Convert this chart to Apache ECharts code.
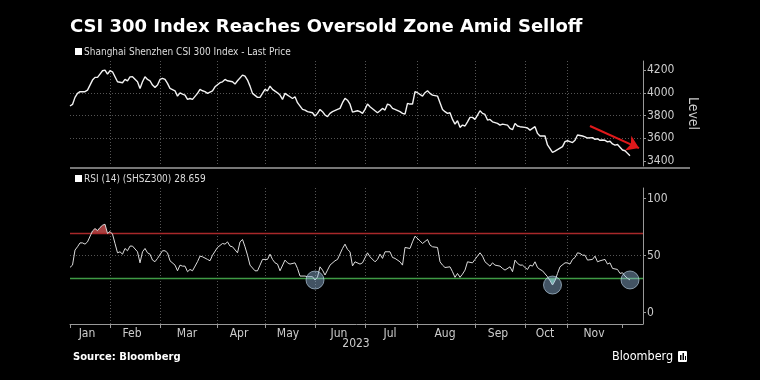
<!DOCTYPE html>
<html><head><meta charset="utf-8">
<script src="https://cdn.jsdelivr.net/npm/echarts@6/dist/echarts.min.js"></script>
<style>html,body{margin:0;padding:0;background:#000}#c{width:760px;height:380px}</style>
</head><body><div id="c"></div>
<script>
// trading-day index (0 = first session of Jan 2023) and values
const priceDays = [0,1,2,3,4,6,7,9,10,11,12,13,14,15,16,17,18,19,21,22,23,24,25,27,28,29,30,31,32,33,34,35,36,37,38,39,40,42,43,44,45,46,47,48,49,51,52,53,54,55,57,58,60,61,62,63,65,66,67,69,70,71,72,73,75,76,77,78,79,80,81,83,84,85,86,87,88,89,90,91,93,94,95,97,98,99,100,101,102,103,104,105,107,108,109,110,111,112,113,115,116,117,118,119,120,122,123,124,125,126,127,128,129,130,132,133,134,135,136,137,138,139,141,142,143,144,145,147,148,149,150,151,152,153,154,155,156,157,158,159,160,161,162,163,164,165,166,167,168,169,171,172,173,175,176,177,178,179,180,182,183,184,186,187,188,190,191,193,194,195,197,198,199,200,201,202,203,205,206,207,209,210,211,212,213,214,215,216,217,218,219,221,222,223,224];
const priceValues = [3884,3898,3960,3995,4010,4010,4024,4112,4136,4136,4165,4194,4200,4165,4194,4185,4141,4097,4089,4118,4106,4140,4141,4097,4039,4097,4141,4118,4106,4068,4048,4068,4118,4127,4118,4083,4039,4018,3971,4000,3988,3980,3942,3950,3942,3995,4030,4018,4010,3995,4018,4053,4089,4097,4118,4106,4097,4077,4106,4156,4147,4112,4059,3995,3960,3960,3995,4030,4018,4059,4030,4000,3980,3942,3995,3980,3965,3950,3965,3913,3854,3848,3834,3825,3796,3819,3854,3834,3805,3790,3819,3834,3854,3863,3913,3951,3935,3900,3830,3842,3834,3819,3854,3901,3877,3842,3825,3842,3863,3848,3901,3892,3863,3854,3834,3819,3813,3907,3901,3901,4010,4001,3971,4001,4018,3995,3980,3971,3913,3854,3834,3819,3825,3766,3725,3754,3696,3716,3708,3745,3784,3784,3766,3804,3842,3819,3810,3760,3766,3745,3731,3716,3725,3716,3687,3676,3731,3708,3702,3696,3690,3672,3702,3643,3620,3620,3541,3476,3487,3500,3526,3570,3578,3570,3562,3582,3629,3620,3612,3602,3606,3590,3596,3582,3585,3582,3568,3574,3550,3540,3545,3497,3490,3468,3447];
const rsiDays = [0,1,2,3,4,5,6,7,9,10,11,12,13,14,15,16,17,18,19,20,21,22,23,24,25,27,28,29,30,31,32,33,34,35,37,38,39,40,42,43,44,45,46,47,48,49,51,52,53,55,56,57,59,61,62,63,64,65,67,68,69,70,71,72,74,75,76,77,79,80,81,82,83,84,86,87,88,90,91,92,94,95,97,98,99,100,101,102,103,104,106,107,109,110,111,112,113,114,116,117,119,120,122,123,124,125,126,128,129,130,132,133,134,136,137,138,140,141,143,144,145,147,148,149,150,152,153,154,155,156,157,158,159,161,162,164,165,166,168,169,170,172,173,174,176,177,178,179,180,181,182,183,184,185,186,187,188,189,191,192,193,194,195,196,198,199,200,201,202,203,204,205,206,207,209,210,211,212,214,215,216,217,219,220,221,222,223,224];
const rsiValues = [39.7,41.7,54.9,57.8,61.2,61.2,60.1,62.1,71.7,73.8,72.0,74.7,76.7,77.6,69.5,71.2,68.9,60.7,52.5,53.4,51.3,56.3,54.3,58.4,58.4,53.4,43.7,53.4,56.3,52.5,51.3,46.1,44.7,47.6,54.3,54.3,52.5,45.5,41.7,36.7,41.7,40.8,40.8,35.9,37.9,36.7,44.7,49.6,49.0,46.7,45.5,50.4,57.2,60.7,60.1,62.1,58.4,57.8,52.5,62.1,64.2,57.8,50.4,41.7,36.7,36.7,41.7,46.7,46.7,51.3,46.7,43.7,42.6,36.7,46.1,43.7,42.6,43.7,38.8,32.1,32.1,31.5,31.5,28.6,31.2,40.2,37.3,33.0,37.3,41.7,45.5,46.7,56.3,60.1,55.5,53.4,41.0,44.6,42.6,43.7,52.5,49.0,44.6,46.7,51.3,47.6,53.4,53.4,48.4,47.6,44.6,41.7,57.2,56.3,62.1,67.1,63.0,60.7,64.2,59.3,57.8,57.2,44.6,41.7,39.6,40.2,35.9,31.0,34.4,31.0,33.8,37.3,44.6,43.7,46.7,52.5,49.6,44.6,40.8,43.7,41.7,40.8,38.8,37.3,40.2,35.9,46.1,43.2,41.7,41.7,39.6,37.9,41.7,40.8,44.6,39.6,37.9,36.7,31.5,28.0,24.2,28.0,34.4,40.2,43.7,43.7,42.6,46.7,48.4,52.5,52.0,50.4,50.4,46.1,46.7,49.6,44.6,45.5,46.7,42.6,43.7,38.8,37.9,34.4,35.0,32.1,30.1,28.659];
const monthStartDays = [0,16,36,59,78,98,118,139,162,182,199,221];
const monthLabelDays = [6.8,24.8,46.8,67.6,87.2,107.6,128,150,171.2,190,209.6];
const monthNames = ['Jan','Feb','Mar','Apr','May','Jun','Jul','Aug','Sep','Oct','Nov'];
const priceTicks = [3400,3600,3800,4000,4200];
const rsiTicks = [0,50,100];
const overbought = 70;
const oversold = 30;
const oversoldMarks = [[98,28.6],[193,24.2],[224,28.659]];
const trendArrow = [[208,3708],[227.6,3514]];

const pricePts = priceDays.map((d,i)=>[d, priceValues[i]]);
const rsiPts = rsiDays.map((d,i)=>[d, rsiValues[i]]);

// polygons (data space) of the parts of the RSI curve beyond a level
function zonePolys(level, above){
  const out=[]; let cur=null;
  const inZ = v => above ? v>level : v<level;
  for(let i=0;i<rsiPts.length;i++){
    const [x,y]=rsiPts[i];
    if(i>0){
      const [px,py]=rsiPts[i-1];
      if(inZ(py)!==inZ(y)){
        const t=(level-py)/(y-py); const cx=px+t*(x-px);
        if(cur){cur.push([cx,level]); out.push(cur); cur=null;}
        else {cur=[[cx,level]];}
      }
    }
    if(inZ(y)){ if(!cur) cur=[[x,level]]; cur.push([x,y]); }
  }
  if(cur){cur.push([cur[cur.length-1][0],level]); out.push(cur);}
  return out;
}
function zoneSeries(level, above, color){
  const polys = zonePolys(level, above);
  return {type:'custom', xAxisIndex:1, yAxisIndex:1, data:[[0,level]], silent:true, z:2,
    renderItem:(params, api)=>({type:'group', children: polys.map(p=>({type:'polygon',
      shape:{points:p.map(pt=>api.coord(pt))}, style:{fill:color, stroke:null}}))})};
}

const NARROW = '"DejaVu Sans Condensed","Liberation Sans Narrow","DejaVu Sans",sans-serif';
const grid = {color:'#555', type:[1,2], width:1};

const xBase = (gi, labels) => ({
  type:'value', gridIndex:gi, min:0, max:229.2,
  axisLine:{show:labels, onZero:false, lineStyle:{color:'#999', width:1}},
  axisTick:{show:labels, customValues:monthStartDays, length:4, lineStyle:{color:'#999'}},
  axisLabel:{show:labels, customValues:monthLabelDays, color:'#ccc', fontSize:12, fontFamily:NARROW, margin:4,
    formatter:v=>{const k=monthLabelDays.indexOf(v);return k>=0?monthNames[k]:'';}},
  splitLine:{show:true, showMinLine:false, showMaxLine:false, lineStyle:grid}
});

const chart = echarts.init(document.getElementById('c'), null, {renderer:'canvas'});
chart.setOption({
  backgroundColor:'#000',
  animation:false,
  grid:[{left:70, top:61, width:573, height:105},{left:70, top:188, width:573, height:136}],
  xAxis:[xBase(0,false), xBase(1,true)],
  yAxis:[
    {type:'value', gridIndex:0, position:'right', min:3356, max:4280,
     axisLine:{show:true, onZero:false, lineStyle:{color:'#999'}},
     axisTick:{show:true, customValues:priceTicks, length:3, lineStyle:{color:'#999'}},
     axisLabel:{customValues:priceTicks, color:'#ccc', fontSize:12, fontFamily:NARROW, margin:4, formatter:v=>String(v)},
     splitLine:{show:true, showMinLine:false, showMaxLine:false, lineStyle:grid},
     name:'Level', nameLocation:'middle', nameRotate:-90, nameGap:29,
     nameTextStyle:{color:'#ccc', fontSize:14, fontFamily:NARROW}},
    {type:'value', gridIndex:1, position:'right', min:-10, max:109.4,
     axisLine:{show:true, onZero:false, lineStyle:{color:'#999'}},
     axisTick:{show:true, customValues:rsiTicks, length:3, lineStyle:{color:'#999'}},
     axisLabel:{customValues:rsiTicks, color:'#ccc', fontSize:12, fontFamily:NARROW, margin:4, formatter:v=>String(v)},
     splitLine:{show:true, showMinLine:false, showMaxLine:false, lineStyle:grid}}
  ],
  series:[
    {type:'line', xAxisIndex:0, yAxisIndex:0, data:pricePts, showSymbol:false, symbol:'none',
     lineStyle:{color:'#f2f2f2', width:1.4}, z:5,
     markLine:{silent:true, symbol:['none','arrow'], symbolSize:12, label:{show:false},
       lineStyle:{color:'#e0191b', width:2, type:'solid'},
       itemStyle:{color:'#e0191b'},
       data:[[{coord:trendArrow[0]},{coord:trendArrow[1]}]]}},
    zoneSeries(overbought, true, 'rgba(195,75,75,0.85)'),
    zoneSeries(oversold, false, 'rgba(110,200,160,0.85)'),
    {type:'line', xAxisIndex:1, yAxisIndex:1, data:rsiPts, symbol:'none', showSymbol:false,
     lineStyle:{color:'#dcdcdc', width:1}, z:5,
     markLine:{silent:true, symbol:'none', label:{show:false},
       data:[{yAxis:overbought, lineStyle:{color:'#a8282a', width:1.3, type:'solid'}},
             {yAxis:oversold, lineStyle:{color:'#3f9a45', width:1.3, type:'solid'}}]}},
    {type:'scatter', xAxisIndex:1, yAxisIndex:1, data:oversoldMarks, symbolSize:18, z:6,
     itemStyle:{color:'rgba(150,190,225,0.55)', borderColor:'rgba(200,225,245,0.75)', borderWidth:1}}
  ],
  graphic:[
    {type:'text', left:70, top:18, style:{text:'CSI 300 Index Reaches Oversold Zone Amid Selloff', fill:'#fff',
      font:'bold 18px "DejaVu Sans", Verdana, sans-serif'}},
    {type:'rect', shape:{x:75, y:48, width:7, height:7}, style:{fill:'#fff'}},
    {type:'text', x:84, y:52, style:{text:'Shanghai Shenzhen CSI 300 Index - Last Price', fill:'#ddd',
      font:'10px '+NARROW, verticalAlign:'middle'}},
    {type:'rect', shape:{x:70, y:167, width:620, height:2}, style:{fill:'#777'}},
    {type:'rect', shape:{x:75, y:175, width:7, height:7}, style:{fill:'#fff'}},
    {type:'text', x:84, y:179, style:{text:'RSI (14) (SHSZ300) 28.659', fill:'#ddd',
      font:'10px '+NARROW, verticalAlign:'middle'}},
    {type:'text', x:356, y:344, style:{text:'2023', fill:'#ccc', font:'12px '+NARROW, align:'center', verticalAlign:'middle'}},
    {type:'text', x:73, y:357, style:{text:'Source: Bloomberg', fill:'#fff', font:'bold 10px "DejaVu Sans", sans-serif', verticalAlign:'middle'}},
    {type:'text', x:612, y:357, style:{text:'Bloomberg', fill:'#fff', font:'12.5px '+NARROW, verticalAlign:'middle'}},
    {type:'rect', shape:{x:678, y:351, width:9, height:11, r:1}, style:{fill:'#fff'}},
    {type:'rect', shape:{x:680, y:355, width:1.5, height:5}, style:{fill:'#000'}},
    {type:'rect', shape:{x:682.5, y:353, width:1.5, height:7}, style:{fill:'#000'}},
    {type:'rect', shape:{x:685, y:356, width:1, height:4}, style:{fill:'#000'}}
  ]
});
</script></body></html>
